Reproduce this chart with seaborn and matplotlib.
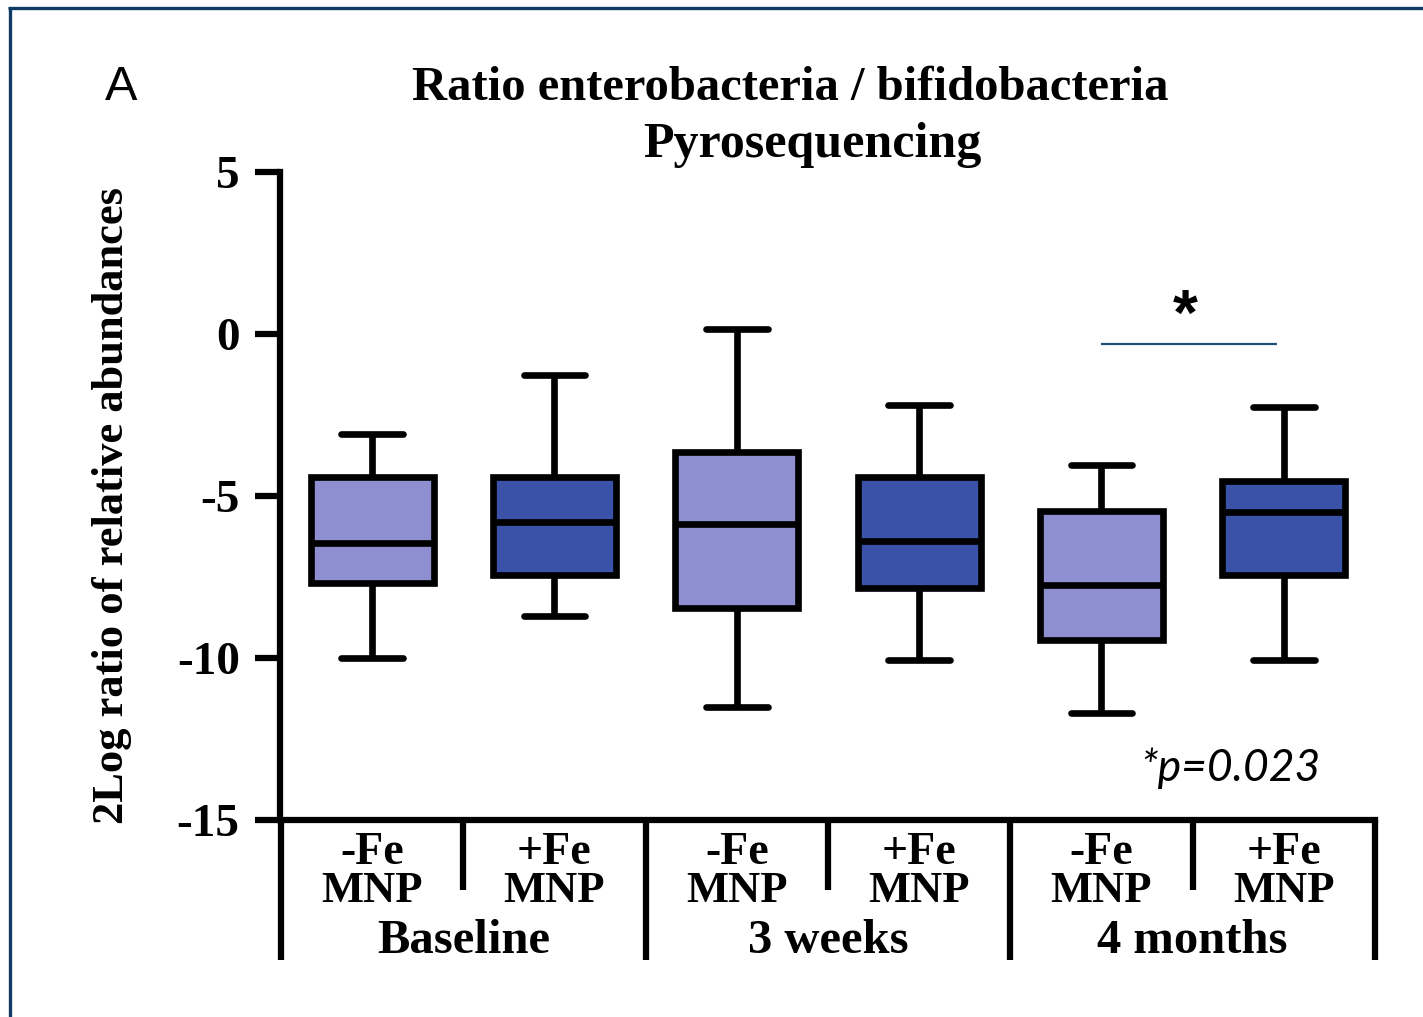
import matplotlib
matplotlib.use("Agg")
import matplotlib.pyplot as plt
from matplotlib.lines import Line2D
import matplotlib.transforms as mtransforms
import numpy as np
import pandas as pd
import seaborn as sns

# Five-number summaries (whisker low, Q1, median, Q3, whisker high) per group
groups = ["Baseline", "3 weeks", "4 months"]
treatments = ["-Fe MNP", "+Fe MNP"]
whisker_low = [-10.0, -8.7, -11.5, -10.05, -11.7, -10.05]
quartile_1 = [-7.7, -7.45, -8.45, -7.85, -9.45, -7.45]
medians = [-6.45, -5.8, -5.85, -6.4, -7.75, -5.5]
quartile_3 = [-4.4, -4.4, -3.65, -4.4, -5.45, -4.55]
whisker_high = [-3.1, -1.25, 0.15, -2.2, -4.05, -2.25]

y_ticks = [5, 0, -5, -10, -15]
sig_pair = (4, 5)
sig_y = -0.3
p_text = "*p=0.023"

# Long-form table: one row per summary value
rows = []
combos = []
k = 0
for g in groups:
    for t in treatments:
        combo = f"{g}\n{t}"
        combos.append(combo)
        for v in (whisker_low[k], quartile_1[k], medians[k], quartile_3[k], whisker_high[k]):
            rows.append({"combo": combo, "group": g, "treatment": t, "value": v})
        k += 1
df = pd.DataFrame(rows)

sns.set_style("ticks")
plt.rcParams["font.family"] = ["Liberation Serif", "DejaVu Serif"]
plt.rcParams["font.weight"] = "bold"
plt.rcParams["axes.unicode_minus"] = False
plt.rcParams["text.color"] = "black"
plt.rcParams["axes.labelcolor"] = "black"
plt.rcParams["xtick.color"] = "black"
plt.rcParams["ytick.color"] = "black"

W, H = 1423, 1017
fig = plt.figure(figsize=(W / 100, H / 100), dpi=100)
fig.patch.set_facecolor("white")

ax_left, ax_right, ax_top, ax_bottom = 280, 1375, 172, 820
ax = fig.add_axes([ax_left / W, 1 - ax_bottom / H,
                   (ax_right - ax_left) / W, (ax_bottom - ax_top) / H])

palette = {"-Fe MNP": "#8e8fd0", "+Fe MNP": "#3a52a7"}
sns.boxplot(data=df, x="combo", y="value", hue="treatment", order=combos,
            hue_order=treatments, palette=palette, dodge=False, width=0.675,
            whis=(0, 100), linewidth=4.8, linecolor="black", saturation=1,
            legend=False, ax=ax)

ax.set_xlim(-0.505, 5.5)
ax.set_ylim(-15, 5)
ax.set_yticks(y_ticks)
ax.set_yticklabels([str(t) for t in y_ticks], fontsize=34, fontweight="bold",
                   color="black")
ax.set_xticks([])
ax.set_xlabel("")
ax.set_ylabel("")
ax.tick_params(axis="y", direction="out", length=18, width=4.5, pad=11,
               color="black")
for side in ("top", "right"):
    ax.spines[side].set_visible(False)
for side in ("left", "bottom"):
    ax.spines[side].set_linewidth(4.5)
    ax.spines[side].set_color("black")

# Category separators and labels beneath the axis
trans = mtransforms.blended_transform_factory(ax.transData, ax.transAxes)
ax_h = ax_bottom - ax_top
long_end = -(960 - ax_bottom) / ax_h
short_end = -(890 - ax_bottom) / ax_h
n_groups = len(groups)
n_treat = len(treatments)
for gi in range(n_groups + 1):
    xb = gi * n_treat - 0.5
    ax.add_line(Line2D([xb, xb], [0, long_end], transform=trans, color="black",
                       lw=4.5, clip_on=False, solid_capstyle="butt"))
for gi in range(n_groups):
    xs = gi * n_treat + 0.5
    ax.add_line(Line2D([xs, xs], [0, short_end], transform=trans, color="black",
                       lw=4.5, clip_on=False, solid_capstyle="butt"))

for i, combo in enumerate(combos):
    sign = treatments[i % n_treat].split()[0]
    ax.text(i, -(853 - ax_bottom) / ax_h, sign, transform=trans, ha="center",
            va="center", fontsize=33, fontweight="bold", color="black")
    ax.text(i, -(891 - ax_bottom) / ax_h, "MNP", transform=trans, ha="center",
            va="center", fontsize=32, fontweight="bold", color="black")
for gi, g in enumerate(groups):
    ax.text(gi * n_treat + 0.5, -(941 - ax_bottom) / ax_h, g, transform=trans,
            ha="center", va="center", fontsize=35, fontweight="bold", color="black")

# Significance bracket
ax.plot([sig_pair[0], sig_pair[1] - 0.04], [sig_y, sig_y], color="#1f4e79",
        lw=1.6, solid_capstyle="butt")
ax.text((sig_pair[0] + sig_pair[1]) / 2 - 0.04, sig_y + 0.8, "*", ha="center",
        va="center", fontsize=46, fontweight="bold", color="black",
        family=["Liberation Sans", "DejaVu Sans"])

# Titles and annotations
fig.text(790 / W, 1 - 88 / H, "Ratio enterobacteria / bifidobacteria",
         ha="center", va="center", fontsize=35, fontweight="bold", color="black")
fig.text(812 / W, 1 - 145 / H, "Pyrosequencing", ha="center", va="center",
         fontsize=36, fontweight="bold", color="black")
fig.text(121 / W, 1 - 88 / H, "A", ha="center", va="center", fontsize=35,
         fontweight="normal", color="black",
         family=["Liberation Sans", "DejaVu Sans"])
fig.text(112 / W, 1 - 505 / H, "2Log ratio of relative abundances",
         rotation=90, ha="center", va="center", fontsize=32, fontweight="bold",
         color="black")
fig.text(1230 / W, 1 - 768 / H, p_text, ha="center", va="center",
         fontsize=32, fontweight="normal", style="italic", color="black",
         family=["Lato", "DejaVu Sans"])

# Frame lines along the left and top edges
fig.add_artist(Line2D([9.5 / W, 9.5 / W], [0, 1 - 7 / H], transform=fig.transFigure,
                      color="#0e3a64", lw=2.4, solid_capstyle="butt"))
fig.add_artist(Line2D([8 / W, 1], [1 - 7.5 / H, 1 - 7.5 / H], transform=fig.transFigure,
                      color="#0e3a64", lw=2.4, solid_capstyle="butt"))

fig.savefig("out.png", dpi=100, facecolor="white")
